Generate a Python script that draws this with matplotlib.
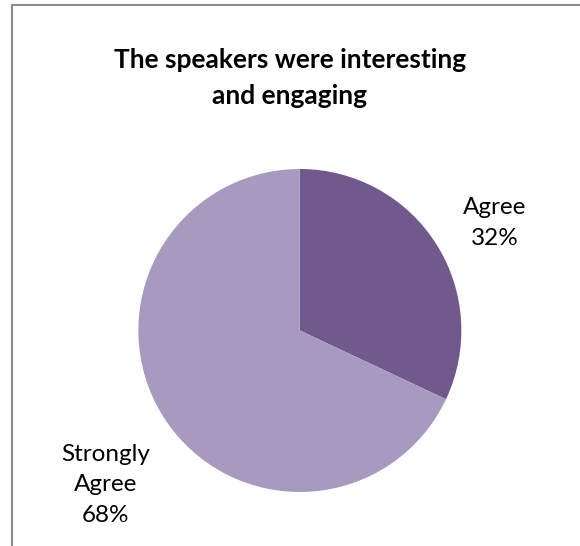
import matplotlib
matplotlib.use('Agg')
import matplotlib.pyplot as plt
from matplotlib.lines import Line2D

plt.rcParams['font.family'] = ['Lato', 'DejaVu Sans']

# 数据
title = 'The speakers were interesting\nand engaging'
categories = ['Agree', 'Strongly\nAgree']
values = [32, 68]
colors = ['#71588D', '#A89ABE']

fig = plt.figure(figsize=(5.8, 5.46), dpi=100)

# 图外框（只看得到上边和左边）
x0, y0 = 11.5 / 580, 1 - 4.5 / 546
fig.lines.append(Line2D([x0, 1.0], [y0, y0], transform=fig.transFigure,
                        color='#8C8C8C', linewidth=1.5))
fig.lines.append(Line2D([x0, x0], [0.0, y0], transform=fig.transFigure,
                        color='#8C8C8C', linewidth=1.5))

fig.text(0.5, 1 - 78 / 546, title, ha='center', va='center',
         fontsize=19, fontweight='bold', linespacing=1.62)

ax = fig.add_axes([0.517 - 0.2785, 0.3947 - 0.2958, 0.557, 0.5916])
wedges, _ = ax.pie(values, colors=colors, startangle=90, counterclock=False,
                   radius=1)
ax.set_xlim(-1, 1)
ax.set_ylim(-1, 1)
ax.axis('off')

# 标签位置
total = sum(values)
label_pos = [(1.207, 0.665), (-1.201, -0.955)]
for name, v, (x, y) in zip(categories, values, label_pos):
    ax.text(x, y, '%s\n%d%%' % (name, round(v / total * 100)),
            ha='center', va='center', fontsize=17.5, linespacing=1.56,
            clip_on=False)

fig.savefig('out.png', dpi=100)
